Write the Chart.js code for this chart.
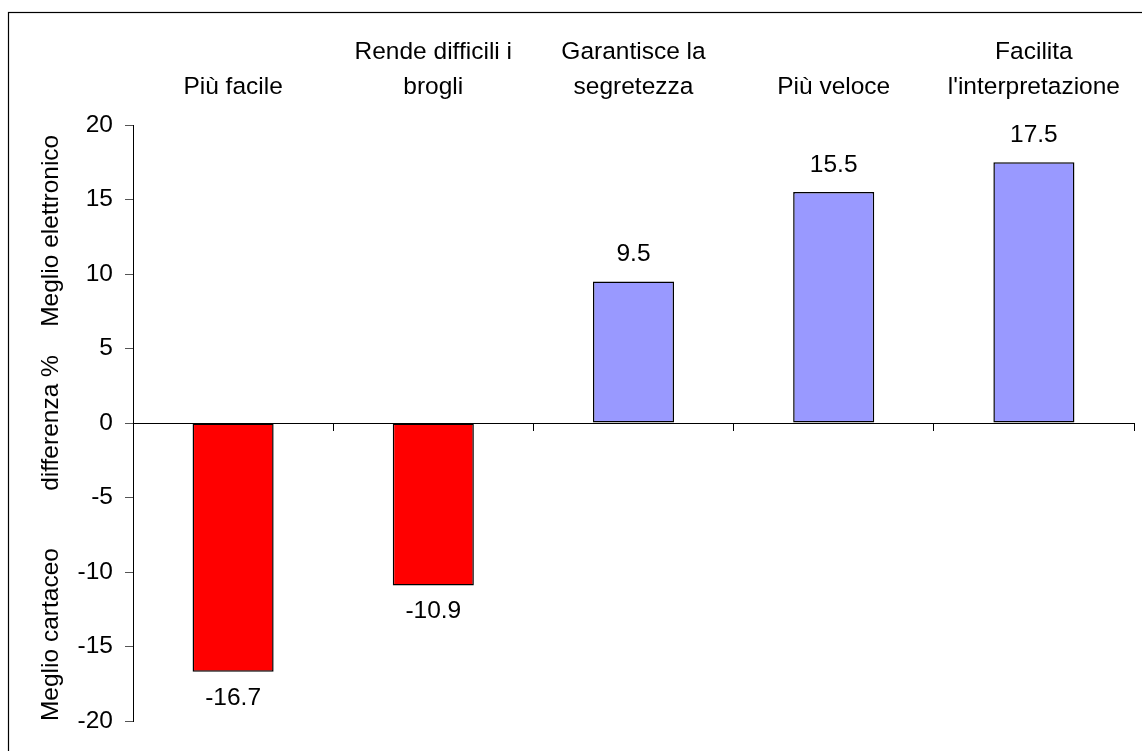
<!DOCTYPE html>
<html>
<head>
<meta charset="utf-8">
<script src="https://cdn.jsdelivr.net/npm/chart.js@4"></script>
<style>
  html, body { margin: 0; padding: 0; background: #fff; }
  canvas { display: block; }
</style>
</head>
<body>
<canvas id="c" width="1142" height="751"></canvas>
<script>
const categories = [
  ["Più facile"],
  ["Rende difficili i", "brogli"],
  ["Garantisce la", "segretezza"],
  ["Più veloce"],
  ["Facilita", "l'interpretazione"]
];
const values = [-16.7, -10.9, 9.5, 15.5, 17.5];
const yMin = -20, yMax = 20, yStep = 5;
const yTitles = ["Meglio elettronico", "differenza %", "Meglio cartaceo"];
const yTitleValues = [12.9, 0, -14.2];

const FONT = "'Liberation Sans', Arial, sans-serif";
const FS = 24.5;

const frame = {
  id: 'frame',
  beforeDraw(chart) {
    const ctx = chart.ctx;
    ctx.save();
    ctx.fillStyle = '#fff';
    ctx.fillRect(0, 0, chart.width, chart.height);
    ctx.strokeStyle = '#000';
    ctx.lineWidth = 1.2;
    ctx.strokeRect(8.5, 12.5, chart.width + 100, chart.height + 100);
    ctx.restore();
  },
  afterDraw(chart) {
    const ctx = chart.ctx;
    const y = chart.scales.y;
    ctx.save();
    ctx.fillStyle = '#000';
    ctx.font = FS + 'px ' + FONT;
    ctx.textAlign = 'center';
    ctx.textBaseline = 'alphabetic';
    yTitles.forEach((t, i) => {
      ctx.save();
      ctx.translate(58, y.getPixelForValue(yTitleValues[i]));
      ctx.rotate(-Math.PI / 2);
      ctx.fillText(t, 0, 0);
      ctx.restore();
    });
    ctx.restore();
  }
};

const valueLabels = {
  id: 'valueLabels',
  afterDatasetsDraw(chart) {
    const ctx = chart.ctx;
    const meta = chart.getDatasetMeta(0);
    ctx.save();
    ctx.fillStyle = '#000';
    ctx.font = FS + 'px ' + FONT;
    ctx.textAlign = 'center';
    ctx.textBaseline = 'alphabetic';
    meta.data.forEach((bar, i) => {
      const v = values[i];
      const txt = v.toFixed(1);
      if (v >= 0) ctx.fillText(txt, bar.x, bar.y - 20);
      else ctx.fillText(txt, bar.x, bar.y + 33);
    });
    ctx.restore();
  }
};

new Chart(document.getElementById('c'), {
  type: 'bar',
  data: {
    labels: categories,
    datasets: [{
      data: values,
      xAxisID: 'x',
      backgroundColor: values.map(v => v < 0 ? '#FF0000' : '#9999FF'),
      borderColor: '#000000',
      borderWidth: 1.5,
      borderSkipped: false,
      barPercentage: 0.405,
      categoryPercentage: 1
    }]
  },
  options: {
    responsive: false,
    animation: false,
    devicePixelRatio: 1,
    layout: { padding: { left: 0, top: 0, right: 8, bottom: 30 } },
    plugins: { legend: { display: false }, tooltip: { enabled: false } },
    scales: {
      x: {
        type: 'category',
        position: 'top',
        offset: true,
        grid: { display: false, drawTicks: false, offset: true },
        border: { display: false },
        ticks: {
          color: '#000',
          font: { family: FONT, size: FS, lineHeight: '35px' },
          padding: 20,
          maxRotation: 0,
          autoSkip: false
        },
        afterFit(s) { s.height = 125; }
      },
      x2: {
        type: 'category',
        position: { y: 0 },
        offset: true,
        grid: { offset: true, drawOnChartArea: false, drawTicks: true, tickLength: 7, color: '#000', lineWidth: 1 },
        border: { display: true, color: '#000', width: 1 },
        ticks: { display: false },
        afterFit(s) { s.height = 0; }
      },
      y: {
        min: yMin,
        max: yMax,
        position: 'left',
        ticks: {
          stepSize: yStep,
          color: '#000',
          font: { family: FONT, size: FS },
          padding: 12
        },
        grid: { drawOnChartArea: false, drawTicks: true, tickLength: 8, color: '#555' },
        border: { display: true, color: '#000', width: 1 },
        afterFit(s) { s.width = 133; }
      }
    }
  },
  plugins: [frame, valueLabels]
});
</script>
</body>
</html>
